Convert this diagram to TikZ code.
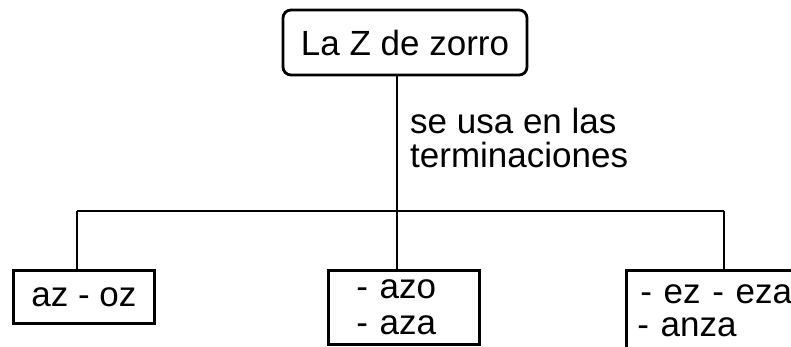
\documentclass[tikz,border=0pt]{standalone}
\usepackage{fontspec}
\setmainfont{Liberation Sans}
\begin{document}
\begin{tikzpicture}[x=1pt,y=1pt,
  boxline/.style={draw=black,line width=2.8pt},
  conn/.style={draw=black,line width=2.8pt},
  bigtext/.style={font=\fontsize{35}{36}\selectfont}]
\useasboundingbox (0,0) rectangle (791,-347);
\clip (0,0) rectangle (791,-347);
% top box
\node[boxline,bigtext,rounded corners=8pt,minimum width=244pt,minimum height=65pt,inner sep=0pt,anchor=center] (top) at (405,-42.5) {La Z de zorro};
% label
\node[font=\fontsize{35}{34}\selectfont,align=left,anchor=north west,inner sep=0pt] (lab) at (410,-108) {se usa en las\\terminaciones};
% bottom boxes
\node[boxline,bigtext,minimum width=141pt,minimum height=53pt,inner sep=0pt,anchor=north west] (left) at (12,-269) {az - oz};
\node[boxline,font=\fontsize{35}{36}\selectfont,minimum width=151pt,minimum height=74pt,text width=95pt,inner xsep=28pt,inner ysep=0pt,align=left,anchor=north west] (mid) at (327,-269) {- azo\\- aza};
\node[boxline,font=\fontsize{35}{33}\selectfont,text width=200pt,inner xsep=11pt,inner ysep=7pt,text height=26pt,text depth=60pt,align=left,anchor=north west] (right) at (625,-269) {\hspace{3pt}- ez - eza\\- anza};
% junctions
\coordinate (jL) at (77,-211);
\coordinate (jM) at (397,-211);
\coordinate (jR) at (724,-211);
\draw[conn] (jL) -- (jR);
\draw[conn] (top.south -| jM) -- (jM);
\draw[conn] (jM) -- (mid.north -| jM);
\draw[conn] (jL) -- (left.north -| jL);
\draw[conn] (jR) -- (right.north -| jR);
\end{tikzpicture}
\end{document}
